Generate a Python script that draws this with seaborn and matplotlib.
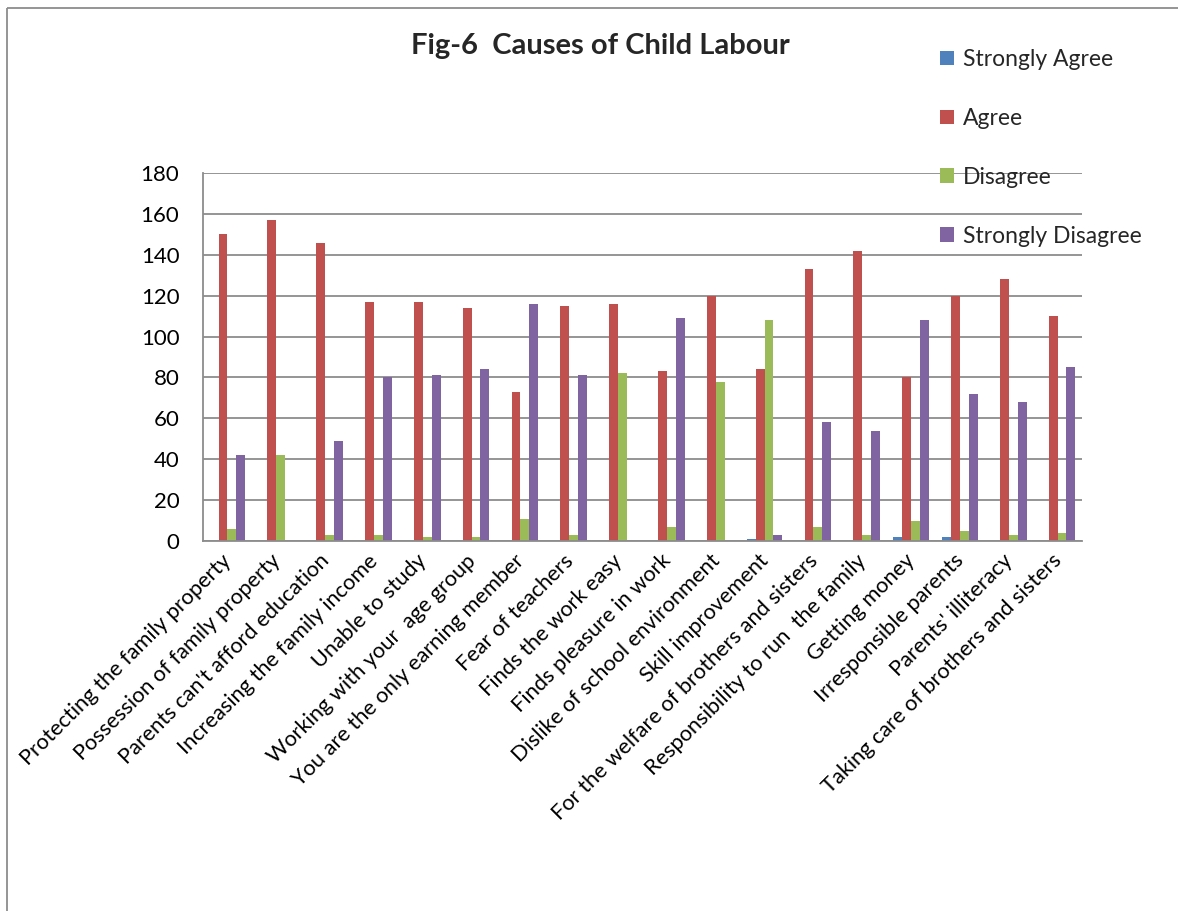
import matplotlib
matplotlib.use("Agg")
import matplotlib.pyplot as plt
from matplotlib.lines import Line2D
from matplotlib.transforms import ScaledTranslation
import seaborn as sns
import pandas as pd

# Survey responses per cause of child labour
causes = [
    "Protecting the family property",
    "Possession of family property",
    "Parents can't afford education",
    "Increasing the family income",
    "Unable to study",
    "Working with your  age group",
    "You are the only earning member",
    "Fear of teachers",
    "Finds the work easy",
    "Finds pleasure in work",
    "Dislike of school environment",
    "Skill improvement",
    "For the welfare of brothers and sisters",
    "Responsibility to run  the family",
    "Getting money",
    "Irresponsible parents",
    "Parents' illiteracy",
    "Taking care of brothers and sisters",
]
strongly_agree = [0, 0, 0, 0, 0, 0, 0, 0, 0, 0, 0, 1, 0, 0, 2, 2, 0, 0]
agree = [150, 157, 146, 117, 117, 114, 73, 115, 116, 83, 120, 84, 133, 142, 80, 120, 128, 110]
disagree = [6, 42, 3, 3, 2, 2, 11, 3, 82, 7, 78, 108, 7, 3, 10, 5, 3, 4]
strongly_disagree = [42, 0, 49, 80, 81, 84, 116, 81, 0, 109, 0, 3, 58, 54, 108, 72, 68, 85]

levels = ["Strongly Agree", "Agree", "Disagree", "Strongly Disagree"]
colors = ["#4F81BD", "#C0504D", "#9BBB59", "#8064A2"]
yticks = [0, 20, 40, 60, 80, 100, 120, 140, 160, 180]

df = pd.DataFrame({
    "Cause": causes * 4,
    "Response": sum([[lv] * len(causes) for lv in levels], []),
    "Count": strongly_agree + agree + disagree + strongly_disagree,
})

sns.set_theme(style="white")
plt.rcParams["font.family"] = ["Lato", "DejaVu Sans"]

W, H = 1178, 911
fig = plt.figure(figsize=(W / 100, H / 100), dpi=100)
ax = fig.add_axes([203 / W, 1 - 541 / H, (1082 - 203) / W, (541 - 173) / H])

sns.barplot(data=df, x="Cause", y="Count", hue="Response", hue_order=levels,
            order=causes, palette=colors, width=0.727, gap=0, ax=ax,
            errorbar=None, saturation=1, linewidth=0, legend=True)

ax.set_ylim(0, 180)
ax.set_xlim(-0.5, len(causes) - 0.5)
ax.set_yticks(yticks)
ax.set_yticklabels([str(v) for v in yticks], fontsize=16, color="black")
ax.yaxis.grid(True, color="#8c8c8c", linewidth=1.3)
ax.set_axisbelow(True)
ax.tick_params(axis="both", length=0)
ax.tick_params(axis="y", pad=17)
ax.tick_params(axis="x", pad=12)
ax.set_xlabel("")
ax.set_ylabel("")
shift = ScaledTranslation(1 / 100, 0, fig.dpi_scale_trans)
for lbl in ax.get_xticklabels():
    lbl.set_rotation(45)
    lbl.set_ha("right")
    lbl.set_va("center")
    lbl.set_rotation_mode("anchor")
    lbl.set_fontsize(15.7)
    lbl.set_color("black")
    lbl.set_transform(lbl.get_transform() + shift)

for side in ["top", "right"]:
    ax.spines[side].set_visible(False)
for side in ["left", "bottom"]:
    ax.spines[side].set_color("#8c8c8c")
    ax.spines[side].set_linewidth(1.3)

handles, labels = ax.get_legend_handles_labels()
ax.get_legend().remove()
fig.legend(handles, labels, loc="upper left",
           bbox_to_anchor=(931 / W, 1 - 40 / H), frameon=False,
           fontsize=16.5, labelspacing=1.65, handlelength=0.6,
           handleheight=0.6, handletextpad=0.4, borderaxespad=0)

fig.text(600 / W, 1 - 46 / H, "Fig-6  Causes of Child Labour",
         ha="center", va="center", fontsize=21, fontweight="bold")

# Chart frame: top and left edges
frame_kw = dict(transform=fig.transFigure, color="#8c8c8c", linewidth=1.3,
                solid_capstyle="butt")
fig.add_artist(Line2D([7 / W, 1.05], [1 - 8 / H, 1 - 8 / H], **frame_kw))
fig.add_artist(Line2D([7 / W, 7 / W], [-0.05, 1 - 8 / H], **frame_kw))

fig.savefig("out.png", dpi=100, facecolor="white")
